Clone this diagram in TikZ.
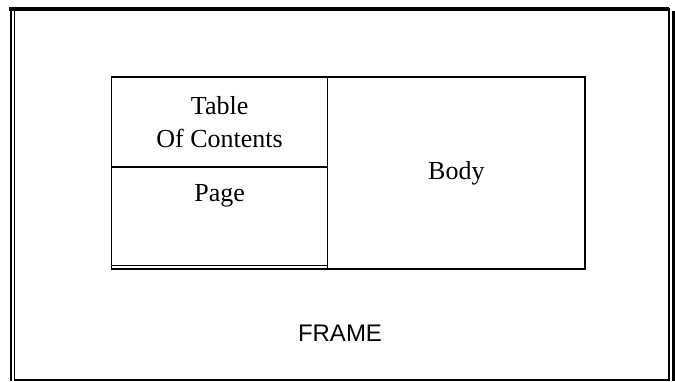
\documentclass[tikz,border=0pt]{standalone}
\usepackage{fontspec}
\setmainfont{Liberation Serif}
\setsansfont{Liberation Sans}
\usetikzlibrary{positioning}

\begin{document}
\begin{tikzpicture}[
  x=1pt,
  y=-1pt,
  cell/.style={draw, line width=1.4pt, inner sep=0pt, align=center, font=\fontsize{26}{33}\selectfont},
  celltext/.style={inner sep=0pt, align=center, font=\fontsize{26}{33}\selectfont},
  caption/.style={inner sep=0pt, font=\sffamily\fontsize{24}{28}\selectfont}
]
  \useasboundingbox (0,0) rectangle (675,381);

  % outer frame
  \node[draw, line width=1.5pt, minimum width=654.7pt, minimum height=371pt, inner sep=0pt] (frame) at (341.65,194.5) {};
  \draw[line width=2.5pt] (11,7) -- (11,381);
  \draw[line width=4pt] (9,9) -- (669,9);
  \draw[line width=3pt] (673.5,11) -- (673.5,381);

  \node[cell, minimum width=216.2pt, minimum height=90pt] (toc) at (219.6,122) {Table\\Of Contents};
  \node[cell, minimum width=216.2pt, minimum height=102pt] (page) at (219.6,218) {};
  \node[celltext, below=18pt of page.north] (pagelbl) {Page};
  \node[cell, minimum width=257.3pt, minimum height=192pt] (body) at (456.35,173) {Body};

  \draw[line width=1.4pt] ([yshift=4pt]page.south west) -- ([yshift=4pt]page.south east);

  \node[caption] (framelbl) at (340,333) {FRAME};
\end{tikzpicture}
\end{document}
